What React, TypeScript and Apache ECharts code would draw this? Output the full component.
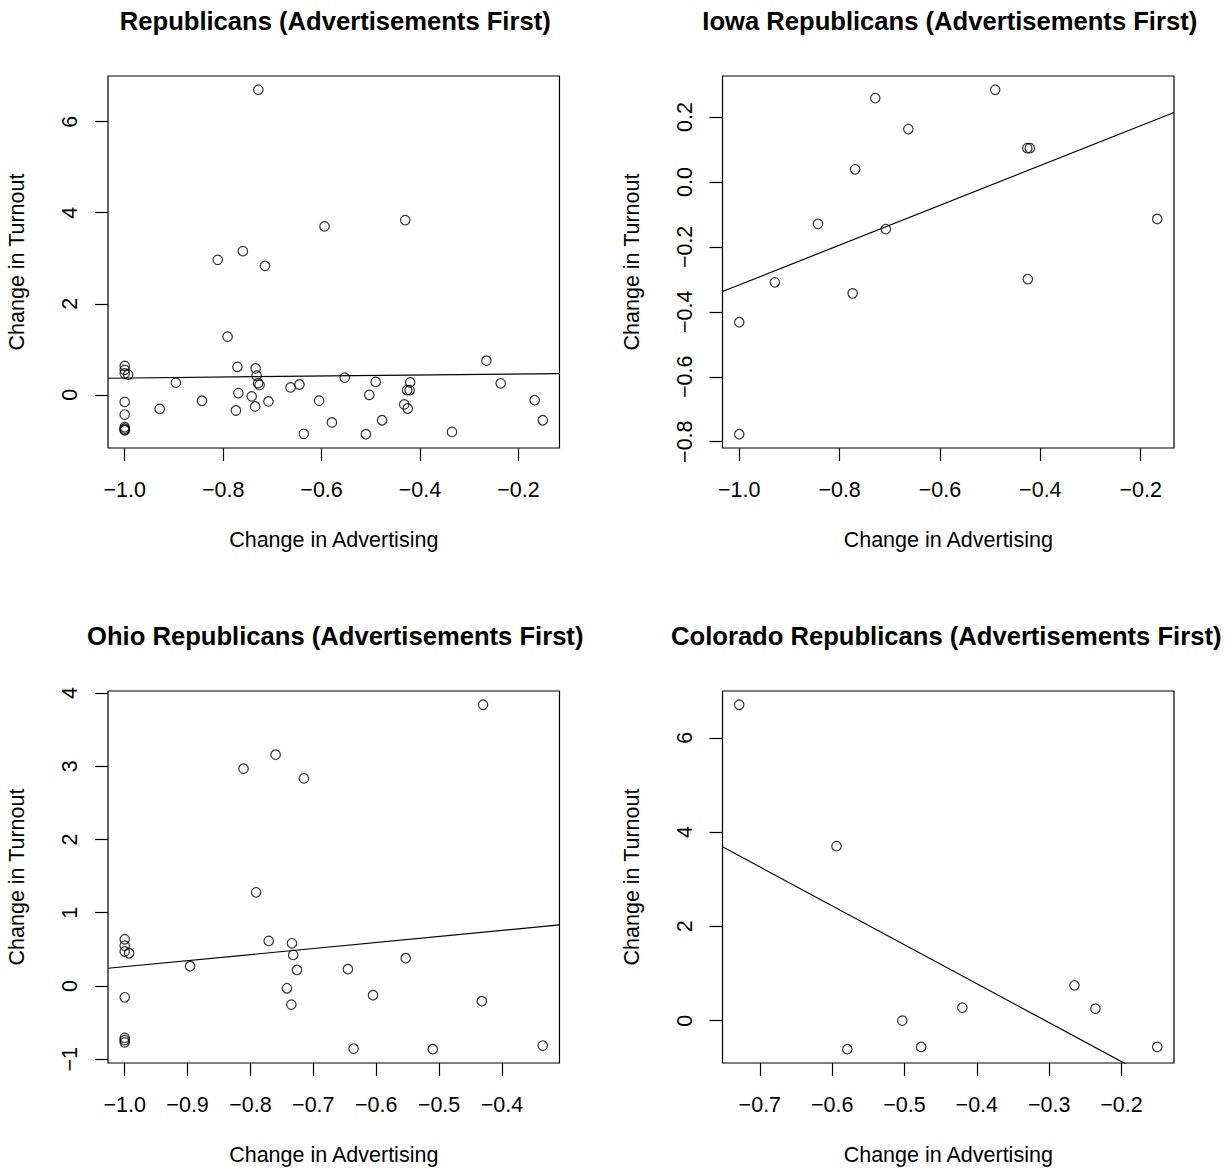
import React, { useEffect, useRef } from "react";
import * as echarts from "echarts";

// ---- Data ----
const iowaX = [-1.0, -1.0, -0.929, -0.843, -0.774, -0.769, -0.729, -0.708, -0.663, -0.49, -0.426, -0.421, -0.425, -0.167];
const iowaY = [-0.777, -0.432, -0.309, -0.129, -0.343, 0.039, 0.258, -0.145, 0.163, 0.284, 0.104, 0.104, -0.299, -0.114];

const ohioX = [-0.76, -0.811, -0.715, -0.791, -1.0, -1.0, -1.0, -0.993, -0.771, -0.734, -0.732, -0.896, -0.726, -0.742, -0.735, -1.0, -1.0, -1.0, -1.0, -0.43, -0.553, -0.645, -0.605, -0.432, -0.636, -0.51, -0.335];
const ohioY = [3.156, 2.965, 2.833, 1.278, 0.637, 0.55, 0.47, 0.446, 0.614, 0.582, 0.423, 0.269, 0.218, -0.032, -0.255, -0.155, -0.71, -0.74, -0.77, 3.838, 0.378, 0.228, -0.127, -0.209, -0.855, -0.864, -0.814];

const coloradoX = [-0.7285, -0.594, -0.579, -0.503, -0.477, -0.42, -0.265, -0.236, -0.1505];
const coloradoY = [6.7, 3.7, -0.606, 0.0, -0.557, 0.275, 0.75, 0.254, -0.557];

// fitted lines: [intercept, slope]
const allFit = [0.482, 0.1125];
const iowaFit = [0.296, 0.613];
const ohioFit = [1.086, 0.823];
const coloradoFit = [-2.52, -8.258];

const panelTitles = [
  "Republicans (Advertisements First)",
  "Iowa Republicans (Advertisements First)",
  "Ohio Republicans (Advertisements First)",
  "Colorado Republicans (Advertisements First)",
];
const xTitle = "Change in Advertising";
const yTitle = "Change in Turnout";

const xTicks = [
  [-1.0, -0.8, -0.6, -0.4, -0.2],
  [-1.0, -0.8, -0.6, -0.4, -0.2],
  [-1.0, -0.9, -0.8, -0.7, -0.6, -0.5, -0.4],
  [-0.7, -0.6, -0.5, -0.4, -0.3, -0.2],
];
const yTicks = [
  [0, 2, 4, 6],
  [-0.8, -0.6, -0.4, -0.2, 0.0, 0.2],
  [-1, 0, 1, 2, 3, 4],
  [0, 2, 4, 6],
];
const xDecimals = [1, 1, 1, 1];
const yDecimals = [0, 1, 0, 0];

const FONT = "'Liberation Sans', Arial, Helvetica, sans-serif";

function rRange(arr: number[]): [number, number] {
  const mn = Math.min(...arr);
  const mx = Math.max(...arr);
  const r = mx - mn;
  return [mn - 0.04 * r, mx + 0.04 * r];
}

function fmt(d: number) {
  return (v: number) => {
    const s = Math.abs(v).toFixed(d);
    const isZero = Math.abs(v) < 1e-9;
    return (v < 0 && !isZero ? "\u2212" : "") + s;
  };
}

export default function App() {
  const ref = useRef<HTMLDivElement>(null);

  useEffect(() => {
    if (!ref.current) return;
    const chart = echarts.init(ref.current, undefined, { renderer: "svg" });

    const allX = [...iowaX, ...ohioX, ...coloradoX];
    const allY = [...iowaY, ...ohioY, ...coloradoY];
    const panels = [
      { xs: allX, ys: allY, fit: allFit },
      { xs: iowaX, ys: iowaY, fit: iowaFit },
      { xs: ohioX, ys: ohioY, fit: ohioFit },
      { xs: coloradoX, ys: coloradoY, fit: coloradoFit },
    ];

    const gridLefts = [108, 722.5, 108, 722.5];
    const gridTops = [76, 76, 691, 691];
    const gridW = 451.5;
    const gridH = 372;
    const titleShift = [1.5, 1.5, 1.5, -2];

    const grids: any[] = [];
    const xAxes: any[] = [];
    const yAxes: any[] = [];
    const series: any[] = [];
    const titles: any[] = [];

    panels.forEach((p, i) => {
      const [xmin, xmax] = rRange(p.xs);
      const [ymin, ymax] = rRange(p.ys);
      grids.push({
        left: gridLefts[i],
        top: gridTops[i],
        width: gridW,
        height: gridH,
        show: true,
        borderColor: "#000",
        borderWidth: 1.2,
        backgroundColor: "transparent",
      });
      titles.push({
        text: panelTitles[i],
        left: gridLefts[i] + gridW / 2 + titleShift[i],
        top: gridTops[i] - 68,
        textAlign: "center",
        padding: 0,
        textStyle: { fontFamily: FONT, fontSize: 25.6, fontWeight: "bold", color: "#000" },
      });
      xAxes.push({
        gridIndex: i,
        type: "value",
        min: xmin,
        max: xmax,
        axisLine: { show: false, onZero: false },
        splitLine: { show: false },
        axisTick: { show: true, length: 13, customValues: xTicks[i], lineStyle: { color: "#000", width: 1.2 } },
        axisLabel: {
          customValues: xTicks[i],
          formatter: fmt(xDecimals[i]),
          margin: 31,
          fontSize: 21.5,
          fontFamily: FONT,
          color: "#000",
        },
        name: xTitle,
        nameLocation: "middle",
        nameGap: 81,
        nameMoveOverlap: false,
        nameTextStyle: { fontSize: 21.5, fontFamily: FONT, color: "#000" },
      });
      yAxes.push({
        gridIndex: i,
        type: "value",
        min: ymin,
        max: ymax,
        axisLine: { show: false, onZero: false },
        splitLine: { show: false },
        axisTick: { show: true, length: 13, customValues: yTicks[i], lineStyle: { color: "#000", width: 1.2 } },
        axisLabel: {
          customValues: yTicks[i],
          formatter: fmt(yDecimals[i]),
          rotate: 90,
          margin: 27,
          fontSize: 21.5,
          fontFamily: FONT,
          color: "#000",
        },
        name: yTitle,
        nameLocation: "middle",
        nameGap: 80,
        nameMoveOverlap: false,
        nameTextStyle: { fontSize: 21.5, fontFamily: FONT, color: "#000" },
      });
      series.push({
        type: "scatter",
        xAxisIndex: i,
        yAxisIndex: i,
        data: p.xs.map((x, k) => [x, p.ys[k]]),
        symbol: "circle",
        symbolSize: 9.5,
        itemStyle: { color: "rgba(0,0,0,0)", borderColor: "#000", borderWidth: 1.2 },
        silent: true,
      });
      const [a, b] = p.fit;
      series.push({
        type: "line",
        xAxisIndex: i,
        yAxisIndex: i,
        data: [
          [xmin, a + b * xmin],
          [xmax, a + b * xmax],
        ],
        symbol: "none",
        clip: true,
        lineStyle: { color: "#000", width: 1.2 },
        silent: true,
      });
    });

    chart.setOption({
      animation: false,
      backgroundColor: "#fff",
      title: titles,
      grid: grids,
      xAxis: xAxes,
      yAxis: yAxes,
      series,
    });

    return () => chart.dispose();
  }, []);

  return (
    <div
      ref={ref}
      style={{ position: "absolute", left: 0, top: 0, width: 1225, height: 1169, background: "#fff" }}
    />
  );
}
